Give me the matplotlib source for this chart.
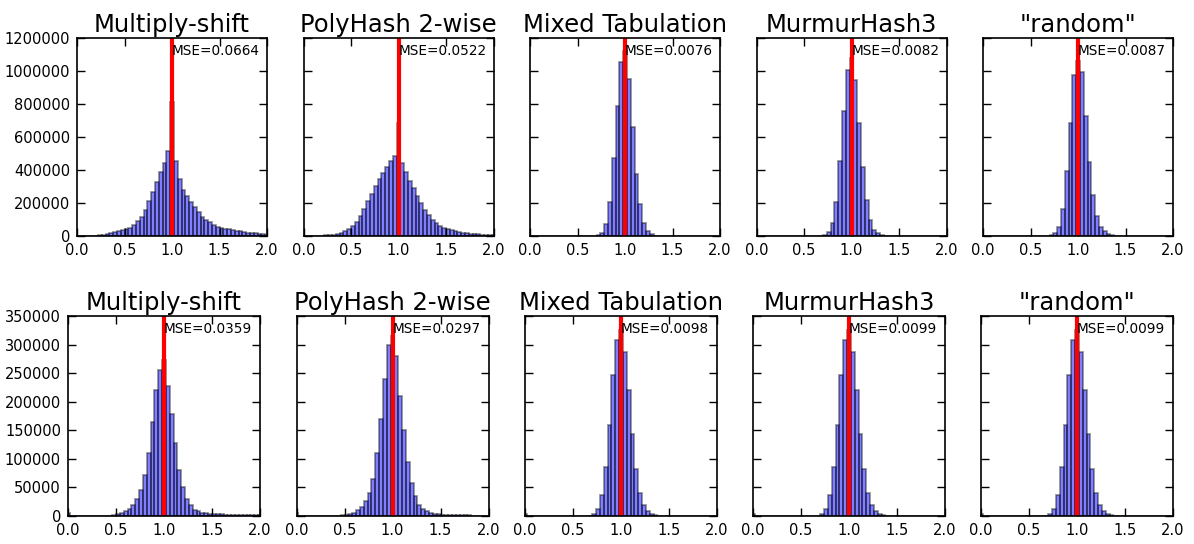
import numpy as np
import matplotlib
matplotlib.use("Agg")
import matplotlib.pyplot as plt
import matplotlib.transforms as mtransforms

# bin centres 0.00, 0.04, ..., 2.00 (51 bins of width 0.04)
bin_width = 0.04
centers = np.round(np.arange(51) * bin_width, 2)

titles = ["Multiply-shift", "PolyHash 2-wise", "Mixed Tabulation", "MurmurHash3", '"random"']

mse_top = ["0.0664", "0.0522", "0.0076", "0.0082", "0.0087"]
mse_bottom = ["0.0359", "0.0297", "0.0098", "0.0099", "0.0099"]

# top row counts
ms_top = [500, 600, 800, 1000, 1500, 2000, 4000, 8000, 12000, 16000,
          22000, 29000, 37000, 45000, 51000, 67000, 92000, 118000, 155000, 210000,
          265000, 327000, 388000, 441000, 516000, 810000, 455000, 347000, 278000, 241000,
          206000, 176000, 143000, 118000, 98000, 82000, 69000, 57000, 49000, 45000,
          41000, 37000, 33000, 29000, 24000, 20000, 18000, 16000, 12000, 10000, 8000]
poly_top = [500, 600, 800, 1000, 1500, 2500, 4000, 6000, 9000, 14000,
            21000, 30000, 42000, 60000, 86000, 121000, 161000, 213000, 257000, 301000,
            344000, 382000, 418000, 452000, 482000, 683000, 442000, 388000, 334000, 289000,
            243000, 197000, 157000, 127000, 100000, 80000, 60000, 48000, 40000, 34000,
            29000, 25000, 21000, 18000, 15000, 13000, 11000, 9000, 7500, 6000, 5000]
mixed_top = [0, 0, 0, 0, 0, 0, 0, 0, 0, 0,
             0, 0, 0, 0, 0, 0, 0, 1500, 6000, 20000,
             71000, 207000, 470000, 789000, 1054000, 1120000, 953000, 659000, 375000, 193000,
             79000, 30000, 12000, 3000, 0, 0, 0, 0, 0, 0,
             0, 0, 0, 0, 0, 0, 0, 0, 0, 0, 0]
murmur_top = [0, 0, 0, 0, 0, 0, 0, 0, 0, 0,
              0, 0, 0, 0, 0, 0, 0, 1500, 6000, 24000,
              79000, 207000, 456000, 758000, 1007000, 1080000, 947000, 683000, 416000, 221000,
              95000, 38000, 16000, 5000, 1000, 0, 0, 0, 0, 0,
              0, 0, 0, 0, 0, 0, 0, 0, 0, 0, 0]
random_top = [0, 0, 0, 0, 0, 0, 0, 0, 0, 0,
              0, 0, 0, 0, 0, 0, 0, 1000, 4000, 16000,
              55000, 166000, 391000, 687000, 973000, 1060000, 991000, 730000, 448000, 251000,
              120000, 55000, 28000, 12000, 5000, 1000, 0, 0, 0, 0,
              0, 0, 0, 0, 0, 0, 0, 0, 0, 0, 0]

# bottom row counts
ms_bottom = [5000, 0, 0, 0, 0, 0, 0, 0, 0, 0,
             0, 500, 2000, 4000, 5000, 8000, 13000, 20000, 30000, 46000,
             72000, 111000, 164000, 220000, 256000, 273000, 228000, 179000, 128000, 81000,
             51000, 30000, 19000, 11000, 8000, 6000, 5000, 4000, 3500, 3000,
             2800, 2500, 2200, 2000, 1800, 1600, 1500, 1400, 1300, 1200, 1100]
poly_bottom = [5000, 0, 0, 0, 0, 0, 0, 0, 0, 0,
               0, 300, 1000, 2000, 4000, 6000, 10000, 16000, 26000, 40000,
               65000, 110000, 170000, 240000, 300000, 315000, 280000, 210000, 150000, 95000,
               58000, 35000, 20000, 12000, 8000, 5000, 4000, 3000, 2500, 2000,
               1800, 1500, 1300, 1100, 1000, 900, 800, 700, 600, 500, 400]
mixed_bottom = [4000, 0, 0, 0, 0, 0, 0, 0, 0, 0,
                0, 0, 0, 0, 0, 0, 0, 500, 4000, 12000,
                37000, 86000, 160000, 246000, 308000, 325000, 287000, 221000, 144000, 82000,
                41000, 19000, 8000, 3000, 1000, 0, 0, 0, 0, 0,
                0, 0, 0, 0, 0, 0, 0, 0, 0, 0, 0]
murmur_bottom = [4000, 0, 0, 0, 0, 0, 0, 0, 0, 0,
                 0, 0, 0, 0, 0, 0, 0, 500, 4000, 12000,
                 37000, 86000, 160000, 246000, 308000, 325000, 287000, 221000, 144000, 82000,
                 41000, 19000, 8000, 3000, 1000, 0, 0, 0, 0, 0,
                 0, 0, 0, 0, 0, 0, 0, 0, 0, 0, 0]
random_bottom = [4000, 0, 0, 0, 0, 0, 0, 0, 0, 0,
                 0, 0, 0, 0, 0, 0, 0, 500, 4000, 12000,
                 37000, 86000, 160000, 246000, 308000, 325000, 287000, 221000, 144000, 82000,
                 41000, 19000, 8000, 3000, 1000, 0, 0, 0, 0, 0,
                 0, 0, 0, 0, 0, 0, 0, 0, 0, 0, 0]

rows = [
    dict(counts=[ms_top, poly_top, mixed_top, murmur_top, random_top], mse=mse_top,
         ymax=1200000, ystep=200000, lefts=[77, 303.5, 530, 756.5, 983], width=190,
         top=38, bottom=236),
    dict(counts=[ms_bottom, poly_bottom, mixed_bottom, murmur_bottom, random_bottom], mse=mse_bottom,
         ymax=350000, ystep=50000, lefts=[68, 296.5, 525, 753, 981], width=192,
         top=316, bottom=516),
]

W, H = 1194, 544
fig = plt.figure(figsize=(W / 100, H / 100), dpi=100)

for row in rows:
    for j in range(5):
        left = row["lefts"][j]
        ax = fig.add_axes([left / W, (H - row["bottom"]) / H,
                           row["width"] / W, (row["bottom"] - row["top"]) / H])
        ax.bar(centers, row["counts"][j], width=bin_width, facecolor=(0, 0, 1, 0.5),
               edgecolor=(0, 0, 0, 0.42), linewidth=1.3)
        ax.axvline(1.0, color="r", linewidth=3)
        trans = mtransforms.blended_transform_factory(ax.transData, ax.transAxes)
        ax.text(1.0, 0.915, "MSE=" + row["mse"][j], transform=trans, fontsize=9.8,
                ha="left", va="baseline")
        ax.set_title(titles[j], fontsize=17.5, pad=4)
        ax.set_xlim(0, 2)
        ax.set_ylim(0, row["ymax"])
        ax.set_xticks(np.arange(0, 2.01, 0.5))
        ax.set_xticklabels(["%.1f" % v for v in np.arange(0, 2.01, 0.5)])
        ax.set_yticks(np.arange(0, row["ymax"] + 1, row["ystep"]))
        ax.tick_params(direction="in", length=5.5, width=1, top=True, right=True,
                       labelsize=10.5, pad=5)
        if j == 0:
            ax.set_yticklabels([str(int(v)) for v in ax.get_yticks()])
        else:
            ax.set_yticklabels([])
        for s in ax.spines.values():
            s.set_linewidth(1.2)

fig.savefig("out.png", dpi=100)
